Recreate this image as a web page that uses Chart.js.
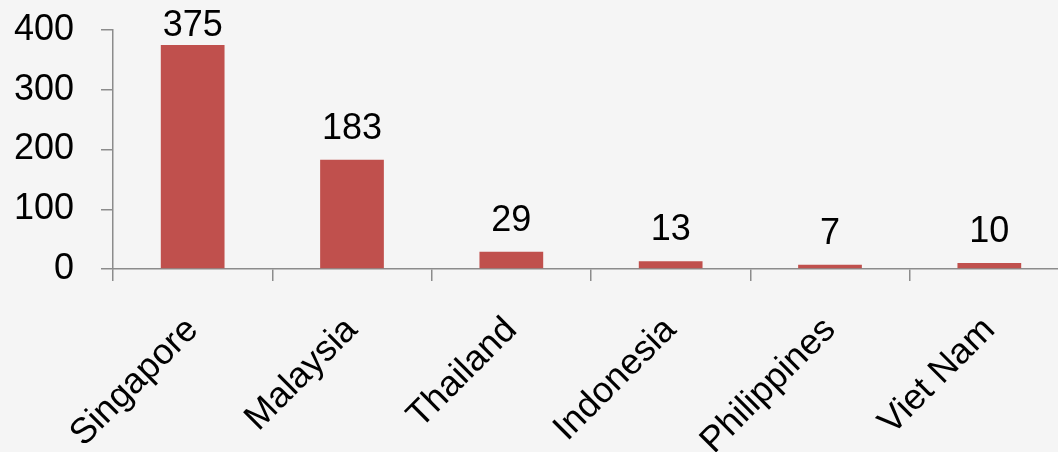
<!DOCTYPE html>
<html>
<head>
<meta charset="utf-8">
<script src="https://cdn.jsdelivr.net/npm/chart.js@4.4.1/dist/chart.umd.min.js"></script>
<style>
    html, body { margin: 0; padding: 0; overflow: hidden; background: #f5f5f5; }
    .chart-box { position: relative; width: 1069px; height: 452px; }
</style>
</head>
<body>
<div class="chart-box"><canvas id="countryChart"></canvas></div>
<script>
// data
const countries = ['Singapore', 'Malaysia', 'Thailand', 'Indonesia', 'Philippines', 'Viet Nam'];
const counts = [375, 183, 29, 13, 7, 10];
const yTicks = [0, 100, 200, 300, 400];

document.addEventListener('DOMContentLoaded', function() {
    const fontFamily = '"Liberation Sans", Arial, sans-serif';

    // value labels above each bar
    const valueLabels = {
        id: 'valueLabels',
        afterDatasetsDraw(chart) {
            const ctx = chart.ctx;
            const meta = chart.getDatasetMeta(0);
            ctx.save();
            ctx.font = '36px ' + fontFamily;
            ctx.fillStyle = '#000';
            ctx.textAlign = 'center';
            ctx.textBaseline = 'alphabetic';
            meta.data.forEach((bar, i) => {
                let y = bar.y - 21;
                if (y < 36) y = 36;
                ctx.fillText(String(counts[i]), bar.x, y);
            });
            ctx.restore();
        }
    };

    const ctx = document.getElementById('countryChart').getContext('2d');
    const countryChart = new Chart(ctx, {
        type: 'bar',
        data: {
            labels: countries,
            datasets: [{
                data: counts,
                backgroundColor: '#C0504D',
                borderWidth: 0,
                categoryPercentage: 1,
                barPercentage: 0.4
            }]
        },
        options: {
            responsive: true,
            maintainAspectRatio: false,
            animation: false,
            layout: { padding: { top: 30, left: 0, right: 0, bottom: 0 } },
            scales: {
                y: {
                    min: 0,
                    max: 400,
                    afterBuildTicks: function(axis) {
                        axis.ticks = yTicks.map(v => ({ value: v }));
                    },
                    afterFit: function(axis) {
                        axis.width = 113;
                        axis.paddingTop = 0;
                        axis.paddingBottom = 0;
                    },
                    border: { color: '#8c8c8c', width: 1.5 },
                    grid: { drawOnChartArea: false, tickLength: 12, color: '#8c8c8c', lineWidth: 1.5 },
                    ticks: { color: '#000', padding: 27, font: { size: 36, family: fontFamily } }
                },
                x: {
                    afterFit: function(axis) {
                        axis.height = 183;
                        axis.paddingTop = 0;
                        axis.paddingLeft = 0;
                        axis.paddingRight = 0;
                    },
                    border: { color: '#8c8c8c', width: 1.5 },
                    grid: { drawOnChartArea: false, tickLength: 12, color: '#8c8c8c', lineWidth: 1.5 },
                    ticks: {
                        color: '#000',
                        maxRotation: 45,
                        minRotation: 45,
                        padding: 28,
                        font: { size: 36, family: fontFamily }
                    }
                }
            },
            plugins: {
                legend: { display: false },
                tooltip: { enabled: false }
            }
        },
        plugins: [valueLabels]
    });
});
</script>
</body>
</html>
